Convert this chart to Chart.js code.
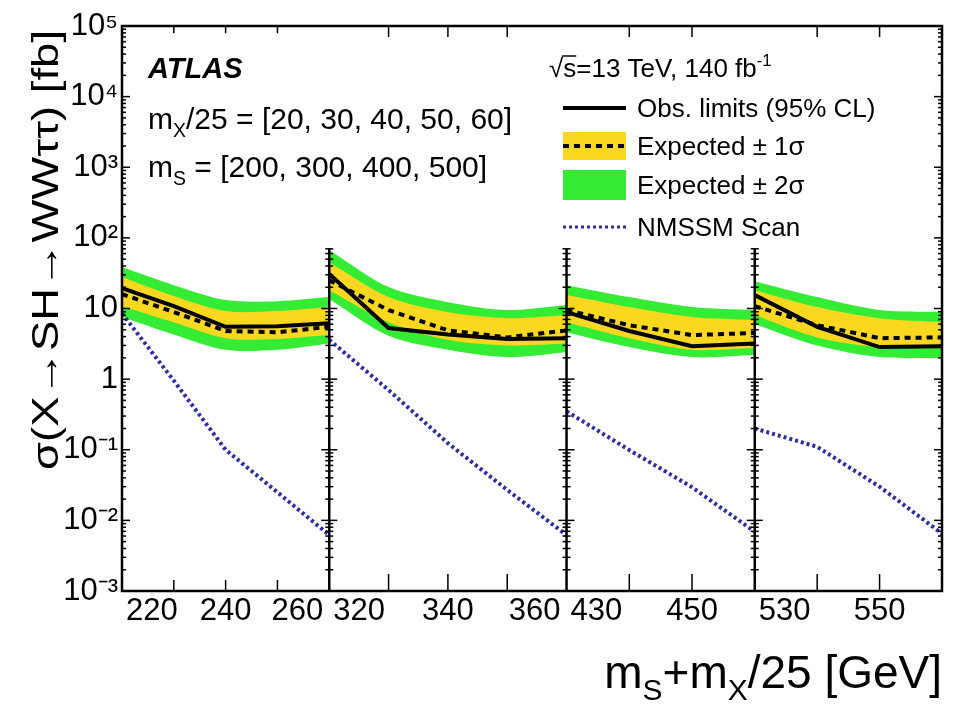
<!DOCTYPE html>
<html>
<head>
<meta charset="utf-8">
<script src="https://cdn.jsdelivr.net/npm/chart.js@4.4.1/dist/chart.umd.min.js"></script>
<style>
  html, body { margin: 0; padding: 0; background: #fff; }
  #wrap { width: 968px; height: 706px; }
</style>
</head>
<body>
<div id="wrap"><canvas id="limitChart" width="968" height="706"></canvas></div>
<script>
// --- Data ---
const massS = [200, 300, 400, 500];
const massX25 = [20, 30, 40, 50, 60];
const xPoints = [
  [220, 230, 240, 250, 260],
  [320, 330, 340, 350, 360],
  [430, 440, 450, 460],
  [530, 540, 550, 560]
];
const obsLimit = [
  [19.5, 10.8, 5.5, 5.6, 6.2],
  [30.7, 5.3, 4.3, 3.7, 3.8],
  [8.9, 4.8, 2.93, 3.2],
  [15.5, 5.5, 2.84, 2.93]
];
const expLimit = [
  [16.0, 8.9, 4.8, 4.6, 5.5],
  [25, 9.5, 4.9, 3.9, 4.9],
  [9.5, 5.8, 4.2, 4.5],
  [10.8, 5.8, 3.8, 3.9]
];
const exp1Up = [
  [27.9, 15.0, 9.2, 9.2, 10.5],
  [45, 14.5, 8.9, 7.3, 8.1],
  [15.5, 10.5, 7.6, 6.9],
  [18.2, 10.5, 7.3, 6.4]
];
const exp1Down = [
  [10.8, 6.4, 3.8, 3.7, 4.2],
  [18.2, 6.4, 3.6, 3.0, 3.2],
  [6.4, 3.8, 2.6, 2.75],
  [8.1, 3.9, 2.84, 2.75]
];
const exp2Up = [
  [38.6, 21.4, 13.2, 12.7, 14.5],
  [67, 20.1, 12.3, 9.5, 11.2],
  [21.4, 14.5, 10.5, 9.5],
  [24.4, 14.5, 9.5, 8.9]
];
const exp2Down = [
  [7.6, 4.3, 2.6, 2.6, 3.2],
  [13.6, 4.1, 2.6, 2.05, 2.4],
  [4.6, 2.84, 2.05, 2.19],
  [6.0, 3.0, 2.05, 1.98]
];
const nmssmScan = [
  [8.5, 0.95, 0.1, 0.025, 0.0062],
  [3.6, 0.70, 0.124, 0.027, 0.0062],
  [0.35, 0.099, 0.0295, 0.0069],
  [0.20, 0.11, 0.030, 0.0065]
];
const xTickLabels = [[220, 240, 260], [320, 340, 360], [430, 450], [530, 550]];
const yTickValues = [1e-3, 1e-2, 1e-1, 1, 10, 1e2, 1e3, 1e4, 1e5];

// --- Style ---
const FONT = '"Liberation Sans", Arial, Helvetica, sans-serif';
const YELLOW = '#fad820';
const GREEN = '#33ec33';
const BLUE = '#2c2ca8';
const panelWeight = [207, 237, 188, 187];
const panelIds = xPoints.map((_, i) => 'x' + i);
const separatorTop = 70; // inner panel borders stop below the text block

Chart.defaults.font.family = FONT;
Chart.defaults.color = '#000';

const SUP = { '-': '\u207b', '0': '\u2070', '1': '\u00b9', '2': '\u00b2', '3': '\u00b3', '4': '\u2074', '5': '\u2075' };
function decadeLabel(v) {
  const e = Math.round(Math.log10(v));
  if (e === 0) return '1';
  if (e === 1) return '10';
  return '10' + String(e).split('').map(c => SUP[c]).join('');
}

// text with sub/superscript pieces: [text, '' | 'sub' | 'sup']
function drawRich(ctx, parts, x, y, size, align, weight) {
  const f = s => `${weight || ''} ${s}px ${FONT}`;
  const widths = parts.map(([t, k]) => { ctx.font = f(k ? size * 0.65 : size); return ctx.measureText(t).width; });
  const total = widths.reduce((a, b) => a + b, 0);
  let cx = align === 'right' ? x - total : x;
  ctx.textAlign = 'left';
  ctx.textBaseline = 'alphabetic';
  parts.forEach(([t, k], i) => {
    ctx.font = f(k ? size * 0.65 : size);
    const dy = k === 'sub' ? size * 0.27 : k === 'sup' ? -size * 0.42 : 0;
    ctx.fillText(t, cx, y + dy);
    cx += widths[i];
  });
  return total;
}

// --- Datasets ---
const datasets = [];
xPoints.forEach((xs, p) => {
  const pts = arr => xs.map((x, i) => ({ x: x, y: arr[p][i] }));
  const base = datasets.length;
  const line = { xAxisID: panelIds[p], yAxisID: 'y', pointRadius: 0, fill: false, tension: 0 };
  const band = { ...line, borderWidth: 0, borderColor: 'transparent', tension: 0.3 };
  datasets.push(
    { ...line, label: 'NMSSM Scan', data: pts(nmssmScan), borderColor: BLUE, borderWidth: 4, borderDash: [3, 3] },
    { ...line, label: 'Obs. limits', data: pts(obsLimit), borderColor: '#000', borderWidth: 4 },
    { ...line, label: 'Expected', data: pts(expLimit), borderColor: '#000', borderWidth: 4, borderDash: [6, 5] },
    { ...band, label: '+1s', data: pts(exp1Up), backgroundColor: YELLOW, fill: { target: base + 4 } },
    { ...band, label: '-1s', data: pts(exp1Down) },
    { ...band, label: '+2s', data: pts(exp2Up), backgroundColor: GREEN, fill: { target: base + 6 } },
    { ...band, label: '-2s', data: pts(exp2Down) }
  );
});

// --- Scales ---
const scales = {};
xPoints.forEach((xs, i) => {
  scales[panelIds[i]] = {
    type: 'linear', position: 'bottom', stack: 'panels', stackWeight: panelWeight[i],
    min: xs[0], max: xs[xs.length - 1],
    grid: { display: false, drawTicks: false }, border: { display: false },
    ticks: { display: false },
    afterFit: s => { s.height = 115; }
  };
});
scales.y = {
  type: 'logarithmic', position: 'left', min: 1e-3, max: 1e5,
  afterBuildTicks: s => { s.ticks = yTickValues.map(v => ({ value: v, major: true })); },
  afterFit: s => { s.width = 122; },
  grid: { display: false, drawTicks: false }, border: { display: false },
  ticks: { autoSkip: false, padding: 4, font: { size: 31 }, color: '#000', callback: v => decadeLabel(v) }
};

// --- Frame, ticks, labels, legend ---
const decor = {
  id: 'decor',
  afterDraw(chart) {
    const { ctx, chartArea: a } = chart;
    const ys = chart.scales.y;
    const sepY = ys.getPixelForValue(separatorTop);
    ctx.save();
    ctx.strokeStyle = '#000';
    ctx.fillStyle = '#000';

    // y ticks on every panel edge
    const edges = panelIds.map(id => chart.scales[id].left).concat([a.right]);
    ctx.lineWidth = 1.5;
    edges.forEach((ex, k) => {
      const inner = k > 0 && k < edges.length - 1;
      for (let d = -3; d <= 4; d++) {
        for (let m = 1; m <= 10; m++) {
          if (m === 10 && d !== 4) continue;
          const py = ys.getPixelForValue(m * Math.pow(10, d));
          if (inner && py < sepY) continue;
          const len = (m === 1 || m === 10) ? 8 : 4;
          ctx.beginPath();
          ctx.moveTo(k > 0 ? ex - len : ex, py);
          ctx.lineTo(k < edges.length - 1 ? ex + len : ex, py);
          ctx.stroke();
        }
      }
    });

    // x ticks top and bottom
    const tickLen = [11, 17, 17, 17];
    panelIds.forEach((id, i) => {
      const s = chart.scales[id];
      for (let v = s.min + 10; v < s.max; v += 10) {
        const px = s.getPixelForValue(v);
        ctx.beginPath();
        ctx.moveTo(px, a.bottom); ctx.lineTo(px, a.bottom - tickLen[i]);
        ctx.moveTo(px, a.top); ctx.lineTo(px, a.top + tickLen[i] * 0.65);
        ctx.stroke();
      }
    });

    // outer frame and panel separators
    ctx.lineWidth = 2.5;
    ctx.strokeRect(a.left, a.top, a.width, a.height);
    edges.slice(1, -1).forEach(ex => {
      ctx.beginPath(); ctx.moveTo(ex, sepY); ctx.lineTo(ex, a.bottom); ctx.stroke();
    });

    // x tick labels, kept inside their panel
    ctx.font = `31px ${FONT}`;
    ctx.textAlign = 'center';
    ctx.textBaseline = 'alphabetic';
    panelIds.forEach((id, i) => {
      const s = chart.scales[id];
      xTickLabels[i].forEach(v => {
        const t = String(v);
        const w = ctx.measureText(t).width;
        const px = Math.min(Math.max(s.getPixelForValue(v), s.left + w / 2 + 4), s.right - w / 2 - 6);
        ctx.fillText(t, px, 620);
      });
    });

    // axis titles
    drawRich(ctx, [['m', ''], ['S', 'sub'], ['+m', ''], ['X', 'sub'], ['/25 [GeV]', '']], a.right, 688, 46, 'right');
    ctx.save();
    const yTitle = '\u03c3(X\u2192SH\u2192WW\u03c4\u03c4) [fb]';
    ctx.font = `37px ${FONT}`;
    const stretch = 440 / ctx.measureText(yTitle).width;
    ctx.translate(58, 30);
    ctx.rotate(-Math.PI / 2);
    ctx.scale(stretch, 1);
    ctx.textAlign = 'right';
    ctx.textBaseline = 'alphabetic';
    ctx.fillText(yTitle, 0, 0);
    ctx.restore();

    // ATLAS label and mass grid
    ctx.font = `italic bold 29px ${FONT}`;
    ctx.textAlign = 'left';
    ctx.fillText('ATLAS', 148, 78);
    drawRich(ctx, [['m', ''], ['X', 'sub'], ['/25 = [' + massX25.join(', ') + ']', '']], 148, 129, 30);
    drawRich(ctx, [['m', ''], ['S', 'sub'], [' = [' + massS.join(', ') + ']', '']], 148, 177, 30);

    // energy / lumi
    ctx.font = `26px ${FONT}`;
    const rootW = ctx.measureText('\u221a').width;
    const sW = ctx.measureText('s').width;
    drawRich(ctx, [['\u221as=13 TeV, 140 fb', ''], ['-1', 'sup']], 549, 77, 26);
    ctx.lineWidth = 1.5;
    ctx.beginPath();
    ctx.moveTo(549 + rootW - 1, 77 - 21);
    ctx.lineTo(549 + rootW + sW, 77 - 21);
    ctx.stroke();

    // legend
    const lx0 = 563, lx1 = 626, tx = 637;
    const rows = [108, 146, 185, 227];
    ctx.fillStyle = YELLOW;
    ctx.fillRect(lx0, rows[1] - 14, lx1 - lx0, 28);
    ctx.fillStyle = GREEN;
    ctx.fillRect(lx0, rows[2] - 15, lx1 - lx0, 30);
    ctx.strokeStyle = '#000';
    ctx.lineWidth = 4;
    ctx.beginPath(); ctx.moveTo(lx0, rows[0]); ctx.lineTo(lx1, rows[0]); ctx.stroke();
    ctx.setLineDash([6, 5]);
    ctx.beginPath(); ctx.moveTo(lx0, rows[1]); ctx.lineTo(lx1, rows[1]); ctx.stroke();
    ctx.setLineDash([3, 3]);
    ctx.strokeStyle = BLUE;
    ctx.lineWidth = 3;
    ctx.beginPath(); ctx.moveTo(lx0, rows[3]); ctx.lineTo(lx1, rows[3]); ctx.stroke();
    ctx.setLineDash([]);
    ctx.fillStyle = '#000';
    ctx.font = `26px ${FONT}`;
    ctx.textAlign = 'left';
    ['Obs. limits (95% CL)', 'Expected \u00b1 1\u03c3', 'Expected \u00b1 2\u03c3', 'NMSSM Scan']
      .forEach((t, i) => ctx.fillText(t, tx, rows[i] + 9));
    ctx.restore();
  }
};

new Chart(document.getElementById('limitChart'), {
  type: 'line',
  data: { datasets: datasets },
  options: {
    responsive: false,
    animation: false,
    layout: { padding: { top: 26, right: 26, left: 0, bottom: 0 } },
    scales: scales,
    plugins: { legend: { display: false }, tooltip: { enabled: false } }
  },
  plugins: [decor]
});
</script>
</body>
</html>
